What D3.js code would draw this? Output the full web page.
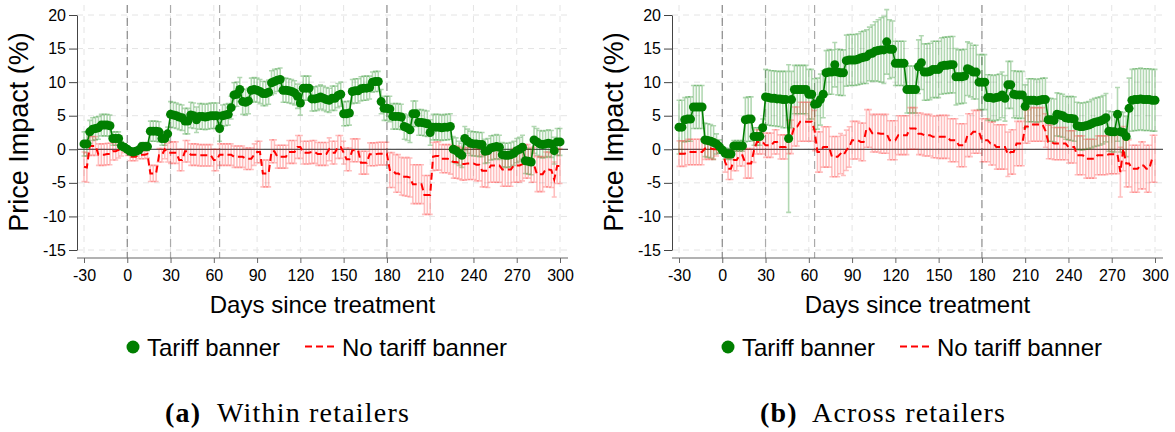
<!DOCTYPE html>
<html>
<head>
<meta charset="utf-8">
<script src="https://cdn.jsdelivr.net/npm/d3@7"></script>
<style>
body { margin: 0; background: #fff; }
svg { display: block; font-family: "Liberation Sans", Arial, sans-serif; }
</style>
</head>
<body>
<svg width="1175" height="432"></svg>
<script>
// days since treatment (every 2nd day)
var days = d3.range(-30, 301, 2);
var xTicks = [-30, 0, 30, 60, 90, 120, 150, 180, 210, 240, 270, 300];
var yTicks = [-15, -10, -5, 0, 5, 10, 15, 20];
var refLines = [0, 30, 64, 180];
var seriesNames = ['Tariff banner', 'No tariff banner'];

// (a) within retailers
var withinBanner = [
	0.8,0.8,2.6,3.0,3.1,3.2,3.6,3.6,3.6,3.5,
	1.6,1.6,1.6,0.5,0.3,0.0,-0.3,-0.4,-0.3,-0.1,
	0.4,0.4,0.4,2.7,2.7,2.7,2.6,1.6,1.6,2.3,
	5.2,5.1,5.0,4.8,4.7,4.2,4.2,5.1,5.0,4.4,
	4.9,4.9,4.8,4.9,5.0,5.0,5.0,3.1,5.0,5.1,
	5.2,6.2,8.1,8.2,8.9,7.1,7.0,7.2,8.8,8.9,
	8.8,8.6,8.3,8.3,8.5,9.9,10.1,10.3,10.4,8.8,
	8.8,8.7,8.6,8.4,7.9,6.9,9.1,9.1,9.1,7.5,
	7.5,7.6,7.8,7.6,7.4,7.3,7.6,7.6,8.0,8.2,
	5.3,5.3,5.4,8.6,8.7,8.7,9.0,9.1,9.1,9.2,
	10.0,10.1,10.1,7.1,6.1,6.1,6.0,4.9,4.9,4.9,
	4.8,3.4,3.2,2.9,5.3,5.3,4.0,4.0,3.9,3.8,
	2.5,3.3,3.3,3.3,3.2,3.3,3.3,3.4,0.0,-0.2,
	-0.6,-0.9,1.6,1.2,0.9,0.8,0.8,0.7,0.7,-0.3,
	-0.2,0.2,0.3,0.4,0.3,-0.8,-0.9,-0.9,-0.8,-0.6,
	-0.2,0.0,0.3,-1.7,-1.8,-1.9,1.4,1.1,0.8,0.7,
	0.8,0.9,0.8,-0.2,1.1,1.1
];
var withinBannerCI = [
	1.8,1.8,1.7,1.7,1.7,1.7,1.6,1.6,1.6,1.6,
	1.0,1.0,1.0,0.6,0.5,0.0,0.5,0.5,0.5,0.5,
	0.6,0.6,0.6,1.5,1.5,1.5,1.5,1.0,1.0,1.0,
	1.9,1.9,1.9,1.9,1.9,1.9,1.9,1.9,1.9,1.9,
	1.9,1.9,1.9,1.9,1.9,1.9,1.9,1.9,1.6,1.6,
	1.6,1.7,1.8,1.8,1.8,1.9,1.9,1.9,1.8,1.8,
	1.8,1.8,1.8,1.8,1.8,1.8,1.8,1.7,1.7,1.8,
	1.8,1.8,1.8,1.8,1.8,1.8,1.8,1.8,1.8,1.8,
	1.8,1.8,1.8,1.8,1.8,1.8,1.8,1.8,1.8,1.8,
	1.8,1.8,1.8,1.8,1.8,1.8,1.8,1.8,1.8,1.7,
	1.5,1.5,1.5,1.8,1.8,1.8,1.9,1.9,1.9,1.9,
	1.9,1.9,1.9,1.9,1.9,1.9,1.9,1.9,1.9,1.9,
	1.9,1.9,1.9,1.9,1.9,1.9,1.9,1.9,1.9,1.9,
	1.8,1.8,1.8,1.8,1.8,1.8,1.8,1.8,1.8,1.8,
	1.8,1.8,1.8,1.8,1.8,1.8,1.8,1.8,1.8,1.8,
	1.8,1.8,1.8,1.9,1.9,1.9,2.0,2.0,2.0,2.0,
	2.0,2.0,2.0,2.0,2.0,2.0
];
var withinNoBanner = [
	-2.6,-2.7,0.5,0.5,0.5,-0.8,-0.8,-0.8,-0.7,-0.7,
	-0.3,-0.3,-0.1,0.0,0.0,-0.4,-1.1,-1.1,-1.1,-0.8,
	-0.8,-0.8,-0.7,-3.6,-3.6,-3.6,-0.9,-0.9,0.0,-0.5,
	-0.5,-0.5,-0.5,-1.6,-1.6,-0.3,-0.3,-0.8,-0.8,-0.8,
	-0.9,-0.9,-0.9,-0.9,-0.9,-1.6,-1.6,-0.8,-0.8,-0.8,
	-0.8,-0.8,-1.1,-1.1,-1.1,-1.1,-1.4,-1.4,-1.4,-0.8,
	-0.4,-0.4,-3.6,-3.6,-3.6,-0.3,-0.3,-1.1,-1.1,-1.1,
	-1.1,-0.4,-0.4,-0.4,0.35,0.35,-0.5,-0.5,-0.5,-0.4,
	-0.4,-0.7,-0.7,-0.7,-0.7,0.0,-0.5,-0.5,0.35,0.35,
	-0.5,-1.5,-1.5,-0.15,-0.15,-0.15,-2.0,-2.0,-2.0,-0.75,
	-0.75,-0.75,-0.65,-0.65,-0.65,-0.65,-3.1,-3.1,-3.6,-3.6,
	-4.0,-4.1,-4.1,-4.2,-5.2,-5.2,-5.2,-5.2,-6.8,-6.8,
	-6.8,-1.1,-1.0,-1.0,-1.4,-1.4,-1.4,-1.5,-1.9,-1.9,
	-2.0,-2.2,-2.2,-2.1,-2.1,-2.1,-2.3,-2.3,-3.2,-3.2,
	-3.2,-2.4,-2.4,-2.4,-2.4,-3.0,-3.0,-3.0,-3.0,-2.4,
	-2.4,-2.4,-2.2,-1.8,-1.8,-2.3,-2.3,-3.7,-3.7,-3.7,
	-3.0,-3.0,-3.1,-4.5,-2.5,-2.5
];
var withinNoBannerCI = [
	2.2,2.2,1.4,1.4,1.4,1.6,1.6,1.6,1.6,1.6,
	1.3,1.3,1.2,1.0,0.5,0.5,0.6,0.6,0.6,0.6,
	0.6,0.6,0.6,1.2,1.2,1.2,1.0,1.0,1.4,1.4,
	1.6,1.6,1.6,1.6,1.6,1.6,1.6,1.6,1.6,1.6,
	1.6,1.6,1.6,1.6,1.6,1.6,1.6,1.6,1.6,1.6,
	1.6,1.6,1.6,1.6,1.6,1.6,1.6,1.6,1.6,1.6,
	1.6,1.6,2.0,2.0,2.0,1.7,1.7,1.7,1.7,1.7,
	1.7,1.7,1.7,1.7,1.7,1.7,1.7,1.7,1.7,1.7,
	1.7,1.7,1.7,1.7,1.7,1.7,1.7,1.7,1.7,1.7,
	1.7,1.7,1.7,1.7,1.7,1.7,1.7,1.7,1.7,1.7,
	1.7,1.7,1.7,1.7,1.7,1.7,2.6,2.6,2.8,2.8,
	2.8,2.8,2.9,2.9,2.9,2.9,2.9,2.9,2.9,2.9,
	2.9,2.1,2.1,2.1,2.1,2.1,2.1,2.2,2.4,2.4,
	2.4,2.4,2.4,2.4,2.4,2.4,2.4,2.4,2.4,2.4,
	2.5,2.5,2.5,2.5,2.5,2.5,2.5,2.5,2.5,2.5,
	2.5,2.5,2.5,2.5,2.5,2.6,2.6,2.6,2.6,2.6,
	2.6,2.6,2.6,2.6,2.6,2.6
];

// (b) across retailers
var acrossBanner = [
	3.3,3.3,4.4,4.5,4.5,6.3,6.3,6.3,6.3,1.4,
	1.3,1.2,1.0,0.8,0.4,-0.1,-0.6,-0.7,-0.7,0.5,
	0.5,0.5,0.5,4.4,4.5,4.5,1.9,1.9,1.9,3.2,
	7.8,7.7,7.6,7.6,7.5,7.5,7.4,7.4,1.6,7.4,
	8.9,8.9,8.9,8.9,8.9,8.2,8.2,6.7,6.8,7.4,
	8.2,11.4,11.5,11.5,12.6,11.5,11.4,11.4,13.2,13.3,
	13.3,13.3,13.4,13.6,13.7,13.8,14.2,14.3,14.6,14.7,
	14.8,14.8,16.0,14.9,14.9,12.8,12.8,12.8,12.8,8.9,
	8.9,8.9,8.9,12.3,12.9,11.5,11.5,11.6,11.9,11.9,
	11.9,12.4,12.5,12.5,12.6,12.6,10.8,10.8,10.8,10.9,
	12.0,11.8,11.5,11.5,10.0,10.0,10.0,7.7,7.7,7.6,
	7.7,7.8,8.1,7.6,9.6,9.6,8.2,8.1,8.1,8.1,
	6.4,7.3,7.3,7.3,7.2,7.3,7.4,7.4,4.4,4.4,
	4.3,5.2,5.1,5.0,4.7,4.6,4.6,4.5,3.5,3.4,
	3.4,3.5,3.6,3.8,4.0,4.1,4.2,4.4,4.7,2.7,
	2.6,2.6,5.2,2.6,2.5,1.9,6.1,7.3,7.4,7.4,
	7.5,7.4,7.4,7.4,7.3,7.3
];
var acrossBannerCI = [
	4.0,4.0,3.3,3.3,3.3,3.2,3.2,3.2,3.2,2.5,
	2.5,2.5,2.5,1.5,1.0,0.0,0.8,0.8,0.8,0.8,
	0.8,0.8,0.8,3.3,3.3,3.3,1.3,1.3,1.3,1.3,
	4.1,4.1,4.1,4.1,4.1,4.1,4.2,4.2,11.0,4.2,
	3.6,3.6,3.6,3.6,3.6,3.7,3.7,3.8,3.8,3.8,
	3.5,3.3,3.3,3.3,3.3,3.4,3.4,3.4,3.8,3.8,
	3.8,3.8,3.8,3.9,3.9,4.0,4.0,4.2,4.4,4.6,
	4.8,5.0,4.8,4.4,4.2,3.3,3.3,3.3,3.3,3.5,
	3.5,3.5,3.5,4.0,4.0,4.2,4.2,4.2,4.2,4.2,
	4.2,4.2,4.2,4.2,4.2,4.2,4.2,4.0,4.0,4.0,
	4.0,4.0,4.0,4.0,4.1,4.1,4.1,3.4,3.4,3.4,
	3.4,3.4,3.4,3.4,3.5,3.5,3.5,3.5,3.5,3.5,
	3.2,3.2,3.2,3.2,3.2,3.2,3.2,3.2,3.2,3.2,
	3.2,3.2,3.2,3.2,3.2,3.2,3.3,3.3,3.5,3.5,
	3.5,3.5,3.5,3.6,3.6,3.6,3.6,3.6,3.6,3.0,
	3.0,3.0,4.0,3.0,3.0,3.0,4.5,4.6,4.6,4.6,
	4.6,4.6,4.6,4.6,4.6,4.6
];
var acrossNoBanner = [
	-0.65,-0.65,-0.65,-0.4,-0.4,-0.4,-0.4,-0.4,-0.4,0.1,
	0.1,0.1,0.0,0.0,0.0,0.0,-1.9,-2.9,-2.9,-1.6,
	-1.6,-0.9,-0.9,-2.1,-2.1,-2.1,-0.15,1.1,1.1,1.1,
	0.6,0.6,0.6,1.1,1.1,0.35,0.35,0.35,1.85,1.85,
	3.4,3.4,4.1,4.1,4.1,4.1,4.1,2.8,-0.4,-0.4,
	0.35,0.35,0.35,-1.1,-1.1,-1.1,-0.65,-0.9,-0.15,0.35,
	1.35,1.35,1.35,1.1,1.1,3.1,3.1,2.4,2.4,2.4,
	2.3,2.3,2.3,1.35,1.35,1.35,2.1,2.1,2.1,2.1,
	3.1,3.1,3.1,2.3,2.3,2.1,2.1,2.1,1.85,1.85,
	1.85,1.85,1.85,1.85,1.35,1.35,1.35,0.6,0.6,0.6,
	2.1,2.1,2.6,2.6,2.6,1.35,1.35,1.35,0.85,0.85,
	0.35,0.35,0.35,0.35,-0.75,-0.4,-0.4,0.85,0.85,0.85,
	3.4,3.4,3.7,3.7,3.7,3.7,3.7,2.8,1.1,1.1,
	0.85,0.85,0.85,0.85,0.85,0.35,0.35,0.35,-0.9,-0.9,
	-0.9,-1.4,-1.4,-1.4,-1.4,-0.9,-0.9,-0.9,-0.9,-0.75,
	-0.75,-0.75,-0.75,-3.4,0.1,-2.1,-2.1,-2.9,-2.9,-2.9,
	-2.4,-2.4,-2.9,-2.9,-1.4,-1.4
];
var acrossNoBannerCI = [
	1.9,1.9,1.9,1.9,1.9,1.9,1.9,1.9,1.9,1.6,
	1.6,1.6,1.5,1.0,0.5,0.0,1.5,1.6,1.6,1.6,
	1.6,1.6,1.6,2.2,2.2,2.2,1.8,1.8,1.8,1.8,
	1.8,1.8,1.8,1.8,1.8,1.8,1.8,1.8,2.5,2.5,
	2.9,2.9,2.9,2.9,2.9,2.9,2.9,3.0,3.0,3.0,
	3.0,3.0,3.0,3.0,3.0,3.0,3.0,3.0,3.0,3.0,
	2.8,2.8,2.8,2.8,2.8,2.8,2.8,2.8,2.8,2.8,
	2.9,2.9,2.9,2.9,2.9,2.9,2.9,2.9,2.9,2.9,
	3.1,3.1,3.1,3.1,3.1,3.1,3.1,3.1,3.1,3.1,
	3.2,3.2,3.2,3.2,3.2,3.2,3.2,3.2,3.2,3.2,
	3.2,3.2,3.2,3.2,3.2,3.2,3.2,3.2,3.2,3.2,
	3.3,3.3,3.3,3.3,3.3,3.3,3.3,3.3,3.3,3.3,
	2.5,2.5,2.5,2.5,2.5,2.5,2.5,2.5,2.5,2.5,
	2.4,2.4,2.4,2.4,2.4,2.4,2.4,2.4,2.9,2.9,
	2.9,2.9,2.9,2.9,2.9,2.9,2.9,2.9,2.9,2.9,
	2.9,2.9,2.9,3.7,3.3,3.5,3.5,3.5,3.5,3.5,
	3.5,3.5,3.5,3.5,3.5,3.5
];

var svg = d3.select('svg');
var GREEN = '#007f00', RED = '#ff0000';
var SANS = '"Liberation Sans", Arial, sans-serif';

function toPoints(vals, ci) {
	return days.map(function(d, i){ return {day: d, v: vals[i], ci: ci[i]}; });
}

function plainNum(d) { return String(d); }

function drawPanel(dx, banner, bannerCI, noBanner, noBannerCI, tag, caption) {
	var g = svg.append('g').attr('transform', 'translate(' + dx + ',0)');
	var x = d3.scaleLinear().domain([-30, 300]).range([84, 560]);
	var y = d3.scaleLinear().domain([-15, 20]).range([250, 15]);
	var left = 77, right = 568, top = 5, bottom = 258;

	// grid
	g.selectAll('line.gridY').data(yTicks).enter().append('line')
		.attr('class', 'gridY')
		.attr('x1', left).attr('x2', right)
		.attr('y1', function(d){ return y(d); }).attr('y2', function(d){ return y(d); })
		.attr('stroke', '#e4e4e4').attr('stroke-width', 1).attr('stroke-dasharray', '6,5');
	g.selectAll('line.gridX').data(xTicks).enter().append('line')
		.attr('class', 'gridX')
		.attr('x1', function(d){ return x(d); }).attr('x2', function(d){ return x(d); })
		.attr('y1', top).attr('y2', bottom)
		.attr('stroke', '#e4e4e4').attr('stroke-width', 1).attr('stroke-dasharray', '6,5');

	// reference lines
	g.selectAll('line.ref').data(refLines).enter().append('line')
		.attr('class', 'ref')
		.attr('x1', function(d){ return x(d); }).attr('x2', function(d){ return x(d); })
		.attr('y1', top).attr('y2', bottom)
		.attr('stroke', function(d){ return d === 0 ? '#888' : '#aaa'; })
		.attr('stroke-width', function(d){ return d === 180 ? 1.6 : 1.2; })
		.attr('stroke-dasharray', '8,5');

	// zero line
	g.append('line')
		.attr('x1', left).attr('x2', right).attr('y1', y(0)).attr('y2', y(0))
		.attr('stroke', '#555').attr('stroke-width', 1.2);

	var gp = toPoints(banner, bannerCI), rp = toPoints(noBanner, noBannerCI);

	function capPath(d) {
		var cx = x(d.day), hi = y(d.v + d.ci), lo = y(d.v - d.ci);
		return 'M' + (cx - 2.5) + ',' + hi + 'h5M' + cx + ',' + hi + 'V' + lo + 'M' + (cx - 2.5) + ',' + lo + 'h5';
	}

	g.selectAll('path.ciG').data(gp).enter().append('path')
		.attr('class', 'ciG').attr('d', capPath)
		.attr('fill', 'none').attr('stroke', GREEN).attr('stroke-opacity', 0.3).attr('stroke-width', 1.6);
	g.selectAll('path.ciR').data(rp).enter().append('path')
		.attr('class', 'ciR').attr('d', capPath)
		.attr('fill', 'none').attr('stroke', RED).attr('stroke-opacity', 0.25).attr('stroke-width', 1.6);

	var line = d3.line().x(function(d){ return x(d.day); }).y(function(d){ return y(d.v); });

	g.append('path').datum(gp).attr('d', line)
		.attr('fill', 'none').attr('stroke', GREEN).attr('stroke-width', 1.6);
	g.append('path').datum(rp).attr('d', line)
		.attr('fill', 'none').attr('stroke', RED).attr('stroke-width', 2).attr('stroke-dasharray', '7,4');
	g.selectAll('circle.dot').data(gp).enter().append('circle')
		.attr('class', 'dot')
		.attr('cx', function(d){ return x(d.day); }).attr('cy', function(d){ return y(d.v); })
		.attr('r', 4.5).attr('fill', GREEN);

	// axes
	var ya = g.append('g').attr('transform', 'translate(' + left + ',0)')
		.call(d3.axisLeft(y).tickValues(yTicks).tickFormat(plainNum).tickSize(8).tickSizeOuter(0).tickPadding(3));
	ya.selectAll('path, line').attr('stroke', '#444');
	ya.selectAll('text').attr('font-size', 16).attr('fill', '#000').attr('font-family', SANS);

	var xa = g.append('g').attr('transform', 'translate(0,' + bottom + ')')
		.call(d3.axisBottom(x).tickValues(xTicks).tickFormat(plainNum).tickSize(5).tickSizeOuter(0).tickPadding(7));
	xa.select('.domain').remove();
	xa.selectAll('line').attr('stroke', '#666');
	xa.selectAll('text').attr('font-size', 16).attr('fill', '#000').attr('font-family', SANS);
	g.append('line').attr('x1', left).attr('x2', right).attr('y1', bottom).attr('y2', bottom)
		.attr('stroke', '#666').attr('stroke-width', 1.2);

	// titles
	g.append('text').attr('transform', 'translate(28,132) rotate(-90)')
		.attr('text-anchor', 'middle').attr('font-size', 27).text('Price Impact (%)');
	g.append('text').attr('x', (left + right) / 2).attr('y', 313)
		.attr('text-anchor', 'middle').attr('font-size', 24).text('Days since treatment');

	// legend
	g.append('circle').attr('cx', 133).attr('cy', 347).attr('r', 6.5).attr('fill', GREEN);
	g.append('text').attr('x', 147).attr('y', 356).attr('font-size', 24).text(seriesNames[0]);
	g.append('line').attr('x1', 305).attr('x2', 334).attr('y1', 346.5).attr('y2', 346.5)
		.attr('stroke', RED).attr('stroke-width', 2).attr('stroke-dasharray', '7,4');
	g.append('text').attr('x', 342).attr('y', 356).attr('font-size', 24).text(seriesNames[1]);

	// caption
	var cap = g.append('text').attr('x', 165).attr('y', 422)
		.attr('font-family', '"Liberation Serif", "Times New Roman", serif').attr('font-size', 28)
		.attr('letter-spacing', 1.2);
	cap.append('tspan').attr('font-weight', 'bold').text(tag);
	cap.append('tspan').attr('x', 217).text(caption);
}

drawPanel(0, withinBanner, withinBannerCI, withinNoBanner, withinNoBannerCI, '(a)', 'Within retailers');
drawPanel(595, acrossBanner, acrossBannerCI, acrossNoBanner, acrossNoBannerCI, '(b)', 'Across retailers');
</script>
</body>
</html>
